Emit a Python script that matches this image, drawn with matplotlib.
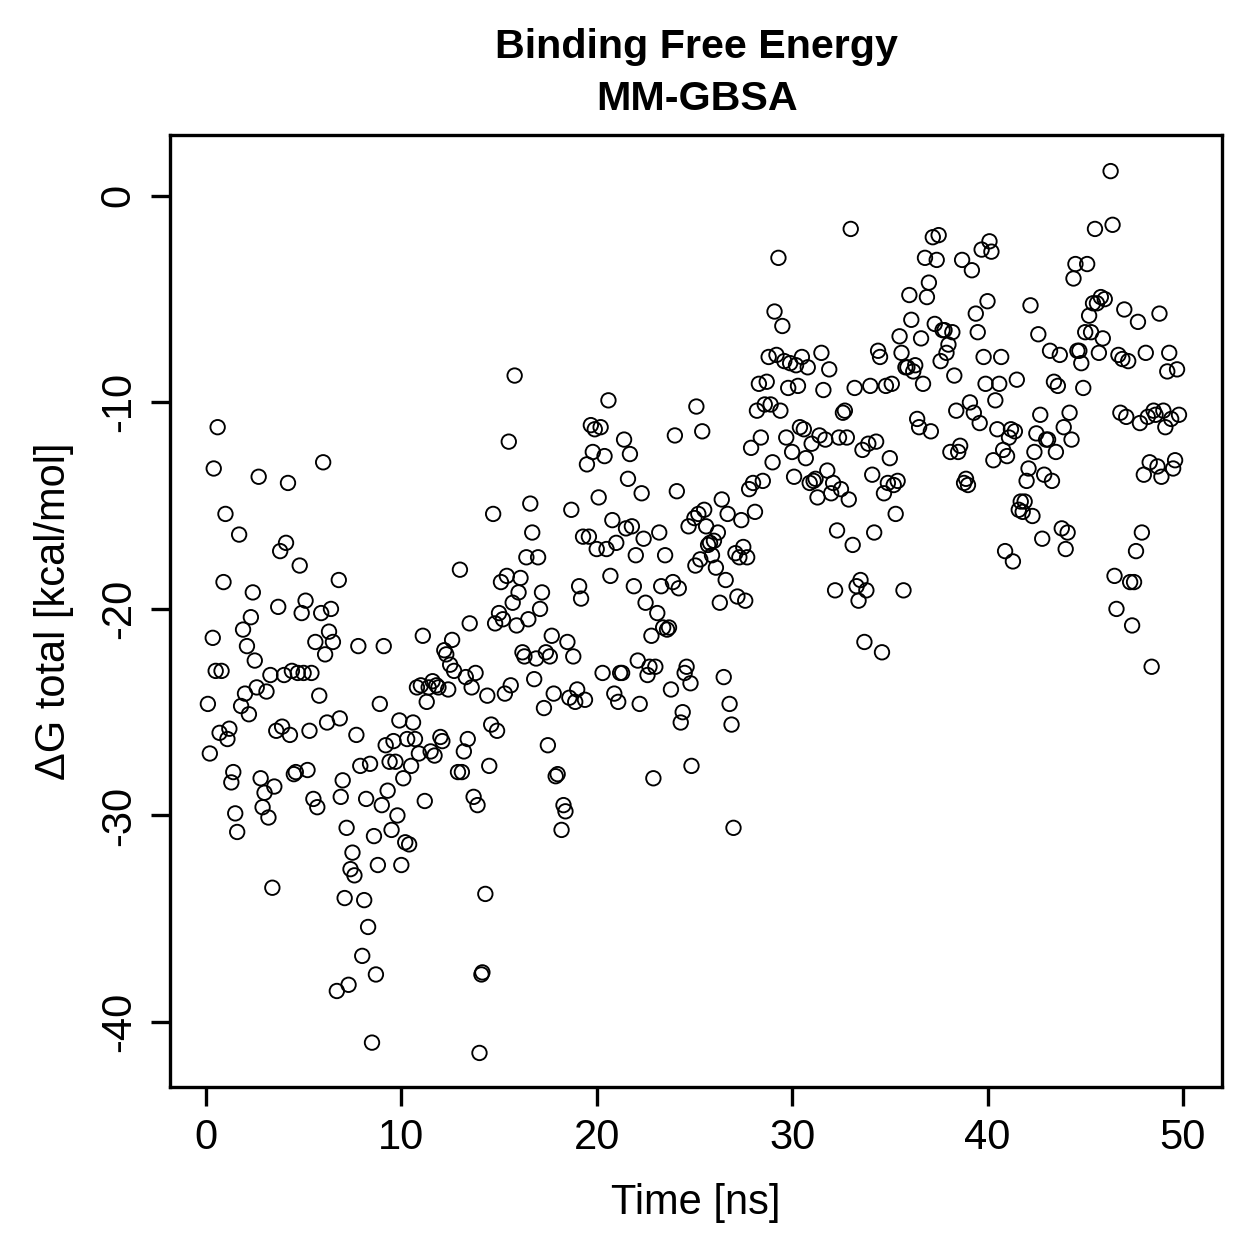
import matplotlib
matplotlib.use("Agg")
import matplotlib.pyplot as plt

plt.rcParams['font.family'] = ['Liberation Sans', 'DejaVu Sans']

# values (time in ns, dG in kcal/mol)
time_ns = [
    0.1, 0.2, 0.35, 0.4, 0.5, 0.6, 0.7, 0.8, 0.9, 1.0, 1.1, 1.2, 1.3, 1.4, 1.5, 1.6, 1.7, 1.8, 1.9, 2.0,
    2.1, 2.2, 2.3, 2.4, 2.5, 2.6, 2.7, 2.8, 2.9, 3.0, 3.1, 3.2, 3.3, 3.4, 3.5, 3.6, 3.7, 3.8, 3.9, 4.0,
    4.1, 4.2, 4.3, 4.4, 4.5, 4.6, 4.7, 4.8, 4.9, 5.0, 5.1, 5.2, 5.3, 5.4, 5.5, 5.6, 5.7, 5.8, 5.9, 6.0,
    6.1, 6.2, 6.3, 6.4, 6.5, 6.7, 6.8, 6.85, 6.9, 7.0, 7.1, 7.2, 7.3, 7.4, 7.5, 7.6, 7.7, 7.8, 7.9, 8.0,
    8.1, 8.2, 8.3, 8.4, 8.5, 8.6, 8.7, 8.8, 8.9, 9.0, 9.1, 9.2, 9.3, 9.4, 9.5, 9.6, 9.7, 9.8, 9.9, 10.0,
    10.1, 10.2, 10.3, 10.4, 10.5, 10.6, 10.7, 10.8, 10.9, 11.0, 11.1, 11.2, 11.3, 11.4, 11.5, 11.6, 11.7, 11.8, 11.9, 12.0,
    12.1, 12.2, 12.3, 12.4, 12.5, 12.6, 12.7, 12.9, 13.0, 13.1, 13.2, 13.3, 13.4, 13.5, 13.6, 13.7, 13.8, 13.9, 14.0, 14.1,
    14.15, 14.3, 14.4, 14.5, 14.6, 14.7, 14.8, 14.9, 15.0, 15.1, 15.2, 15.3, 15.4, 15.5, 15.6, 15.7, 15.8, 15.9, 16.0, 16.1,
    16.2, 16.3, 16.4, 16.5, 16.6, 16.7, 16.8, 16.9, 17.0, 17.1, 17.2, 17.3, 17.4, 17.5, 17.6, 17.7, 17.8, 17.9, 18.0, 18.2,
    18.3, 18.4, 18.5, 18.6, 18.7, 18.8, 18.9, 19.0, 19.1, 19.2, 19.3, 19.4, 19.5, 19.6, 19.7, 19.8, 19.9, 20.0, 20.1, 20.2,
    20.3, 20.4, 20.5, 20.6, 20.7, 20.8, 20.9, 21.0, 21.1, 21.2, 21.3, 21.4, 21.5, 21.6, 21.7, 21.8, 21.9, 22.0, 22.1, 22.2,
    22.3, 22.4, 22.5, 22.6, 22.7, 22.8, 22.9, 23.0, 23.1, 23.2, 23.3, 23.4, 23.5, 23.6, 23.7, 23.8, 23.9, 24.0, 24.1, 24.2,
    24.3, 24.4, 24.5, 24.6, 24.7, 24.8, 24.85, 25.0, 25.05, 25.1, 25.2, 25.3, 25.4, 25.5, 25.6, 25.7, 25.8, 25.9, 26.0, 26.1,
    26.2, 26.3, 26.4, 26.5, 26.6, 26.7, 26.8, 26.9, 27.0, 27.1, 27.2, 27.3, 27.4, 27.5, 27.6, 27.7, 27.8, 27.9, 28.0, 28.1,
    28.2, 28.3, 28.4, 28.5, 28.6, 28.7, 28.8, 28.9, 29.0, 29.1, 29.2, 29.3, 29.4, 29.5, 29.6, 29.7, 29.8, 29.9, 30.0, 30.1,
    30.2, 30.3, 30.4, 30.5, 30.6, 30.7, 30.8, 30.9, 31.0, 31.1, 31.2, 31.3, 31.4, 31.5, 31.6, 31.7, 31.8, 31.9, 32.0, 32.1,
    32.2, 32.3, 32.4, 32.5, 32.6, 32.7, 32.8, 32.9, 33.0, 33.1, 33.2, 33.3, 33.4, 33.5, 33.6, 33.7, 33.8, 33.9, 34.0, 34.1,
    34.2, 34.3, 34.4, 34.5, 34.6, 34.7, 34.8, 34.9, 35.0, 35.1, 35.2, 35.3, 35.4, 35.5, 35.6, 35.7, 35.8, 35.9, 36.0, 36.1,
    36.2, 36.3, 36.4, 36.5, 36.6, 36.7, 36.8, 36.9, 37.0, 37.1, 37.2, 37.3, 37.4, 37.5, 37.6, 37.7, 37.8, 37.9, 38.0, 38.1,
    38.2, 38.3, 38.4, 38.5, 38.6, 38.7, 38.8, 38.9, 39.0, 39.1, 39.2, 39.3, 39.4, 39.5, 39.6, 39.7, 39.8, 39.9, 40.0, 40.1,
    40.2, 40.3, 40.4, 40.5, 40.6, 40.7, 40.8, 40.9, 41.0, 41.1, 41.2, 41.3, 41.4, 41.5, 41.6, 41.7, 41.8, 41.9, 42.0, 42.1,
    42.2, 42.3, 42.4, 42.5, 42.6, 42.7, 42.8, 42.9, 43.0, 43.1, 43.2, 43.3, 43.4, 43.5, 43.6, 43.7, 43.8, 43.9, 44.0, 44.1,
    44.2, 44.3, 44.4, 44.5, 44.6, 44.7, 44.8, 44.9, 45.0, 45.1, 45.2, 45.3, 45.4, 45.5, 45.6, 45.7, 45.8, 45.9, 46.0, 46.3,
    46.4, 46.5, 46.6, 46.7, 46.8, 46.9, 47.0, 47.1, 47.2, 47.3, 47.4, 47.5, 47.6, 47.7, 47.8, 47.9, 48.0, 48.1, 48.2, 48.3,
    48.4, 48.5, 48.6, 48.7, 48.8, 48.9, 49.0, 49.1, 49.2, 49.3, 49.4, 49.5, 49.6, 49.7, 49.8,
]

dg_total = [
    -24.6, -27.0, -21.4, -13.2, -23.0, -11.2, -26.0, -23.0, -18.7, -15.4, -26.3, -25.8, -28.4, -27.9, -29.9, -30.8, -16.4, -24.7, -21.0, -24.1,
    -21.8, -25.1, -20.4, -19.2, -22.5, -23.8, -13.6, -28.2, -29.6, -28.9, -24.0, -30.1, -23.2, -33.5, -28.6, -25.9, -19.9, -17.2, -25.7, -23.2,
    -16.8, -13.9, -26.1, -23.0, -28.0, -27.9, -23.1, -17.9, -20.2, -23.1, -19.6, -27.8, -25.9, -23.1, -29.2, -21.6, -29.6, -24.2, -20.2, -12.9,
    -22.2, -25.5, -21.1, -20.0, -21.6, -38.5, -18.6, -25.3, -29.1, -28.3, -34.0, -30.6, -38.2, -32.6, -31.8, -32.9, -26.1, -21.8, -27.6, -36.8,
    -34.1, -29.2, -35.4, -27.5, -41.0, -31.0, -37.7, -32.4, -24.6, -29.5, -21.8, -26.6, -28.8, -27.4, -30.7, -26.4, -27.4, -30.0, -25.4, -32.4,
    -28.2, -31.3, -26.3, -31.4, -27.6, -25.5, -26.3, -23.8, -27.0, -23.7, -21.3, -29.3, -24.5, -23.8, -26.9, -23.5, -27.1, -23.7, -23.8, -26.2,
    -26.4, -22.0, -22.2, -23.9, -22.7, -21.5, -23.0, -27.9, -18.1, -27.9, -26.9, -23.3, -26.3, -20.7, -23.8, -29.1, -23.1, -29.5, -41.5, -37.7,
    -37.6, -33.8, -24.2, -27.6, -25.6, -15.4, -20.7, -25.9, -20.2, -18.7, -20.5, -24.1, -18.4, -11.9, -23.7, -19.7, -8.7, -20.8, -19.2, -18.5,
    -22.1, -22.3, -17.5, -20.5, -14.9, -16.3, -23.4, -22.4, -17.5, -20.0, -19.2, -24.8, -22.1, -26.6, -22.3, -21.3, -24.1, -28.1, -28.0, -30.7,
    -29.5, -29.8, -21.6, -24.3, -15.2, -22.3, -24.5, -23.9, -18.9, -19.5, -16.5, -24.4, -13.0, -16.5, -11.1, -12.4, -11.3, -17.1, -14.6, -11.2,
    -23.1, -12.6, -17.1, -9.9, -18.4, -15.7, -24.1, -16.8, -24.5, -23.1, -23.1, -11.8, -16.1, -13.7, -12.5, -16.0, -18.9, -17.4, -22.5, -24.6,
    -14.4, -16.6, -19.7, -23.2, -22.8, -21.3, -28.2, -22.8, -20.2, -16.3, -18.9, -20.9, -17.4, -21.0, -20.9, -23.9, -18.7, -11.6, -14.3, -19.0,
    -25.5, -25.0, -23.1, -22.8, -16.0, -23.6, -27.6, -15.6, -17.9, -10.2, -15.4, -17.6, -11.4, -15.2, -16.0, -16.9, -16.8, -17.4, -16.7, -18.0,
    -16.3, -19.7, -14.7, -23.3, -18.6, -15.4, -24.6, -25.6, -30.6, -17.3, -19.4, -17.5, -15.7, -17.0, -19.6, -17.5, -14.2, -12.2, -13.9, -15.3,
    -10.4, -9.1, -11.7, -13.8, -10.1, -9.0, -7.8, -10.1, -12.9, -5.6, -7.7, -3.0, -10.4, -6.3, -8.0, -11.7, -9.3, -8.1, -12.4, -13.6,
    -8.2, -9.2, -11.2, -7.8, -11.3, -12.7, -8.3, -13.9, -12.0, -13.8, -13.7, -14.6, -11.6, -7.6, -9.4, -11.8, -13.3, -8.4, -14.4, -13.9,
    -19.1, -16.2, -11.7, -14.2, -10.5, -10.4, -11.7, -14.7, -1.6, -16.9, -9.3, -18.9, -19.6, -18.6, -12.3, -21.6, -19.1, -12.0, -9.2, -13.5,
    -16.3, -11.9, -7.5, -7.8, -22.1, -14.4, -9.2, -13.9, -12.7, -9.1, -14.0, -15.4, -13.8, -6.8, -7.6, -19.1, -8.3, -8.3, -4.8, -6.0,
    -8.5, -8.2, -10.8, -11.2, -6.9, -9.1, -3.0, -4.9, -4.2, -11.4, -2.0, -6.2, -3.1, -1.9, -8.0, -6.5, -6.5, -7.6, -7.2, -12.4,
    -6.6, -8.7, -10.4, -12.4, -12.1, -3.1, -13.9, -13.7, -14.0, -10.0, -3.6, -10.5, -5.7, -6.6, -11.0, -2.6, -7.8, -9.1, -5.1, -2.2,
    -2.7, -12.8, -9.9, -11.3, -9.1, -7.8, -12.3, -17.2, -12.6, -11.7, -11.3, -17.7, -11.4, -8.9, -15.2, -14.8, -15.3, -14.8, -13.8, -13.2,
    -5.3, -15.5, -12.4, -11.5, -6.7, -10.6, -16.6, -13.5, -11.8, -11.8, -7.5, -13.8, -9.0, -12.4, -9.2, -7.7, -16.1, -11.2, -17.1, -16.3,
    -10.5, -11.8, -4.0, -3.3, -7.5, -7.5, -8.1, -9.3, -6.6, -3.3, -5.8, -6.6, -5.2, -1.6, -5.2, -7.6, -4.9, -6.9, -5.0, 1.2,
    -1.4, -18.4, -20.0, -7.7, -10.5, -7.9, -5.5, -10.7, -8.0, -18.7, -20.8, -18.7, -17.2, -6.1, -11.0, -16.3, -13.5, -7.6, -10.7, -12.9,
    -22.8, -10.4, -10.6, -13.1, -5.7, -13.6, -10.4, -11.2, -8.5, -7.6, -10.8, -13.2, -12.8, -8.4, -10.6,
]

x_ticks = [0, 10, 20, 30, 40, 50]
y_ticks = [0, -10, -20, -30, -40]

fig = plt.figure(figsize=(1259 / 300, 1259 / 300), dpi=300)
ax = fig.add_axes([0.135, 0.1366, 0.8356, 0.7562])

ax.scatter(time_ns, dg_total, s=12, facecolors='none', edgecolors='black', linewidths=0.45)

ax.set_xlim(-1.84, 52.0)
ax.set_ylim(-43.15, 2.95)
ax.set_xticks(x_ticks)
ax.set_yticks(y_ticks)
ax.set_yticklabels([str(t) for t in y_ticks], rotation=90, va='center')

for sp in ax.spines.values():
    sp.set_linewidth(0.8)
ax.tick_params(length=4.5, width=0.8, labelsize=10, pad=3)

ax.set_xlabel("Time [ns]", fontsize=10, labelpad=6)
ax.set_ylabel("\u0394G total [kcal/mol]", fontsize=10, labelpad=6)

fig.text(0.5535, 0.9625, "Binding Free Energy", ha='center', va='center', fontsize=9.9, fontweight='bold')
fig.text(0.5535, 0.9215, "MM-GBSA", ha='center', va='center', fontsize=9.9, fontweight='bold')

fig.savefig("out.png", dpi=300, facecolor='white')
